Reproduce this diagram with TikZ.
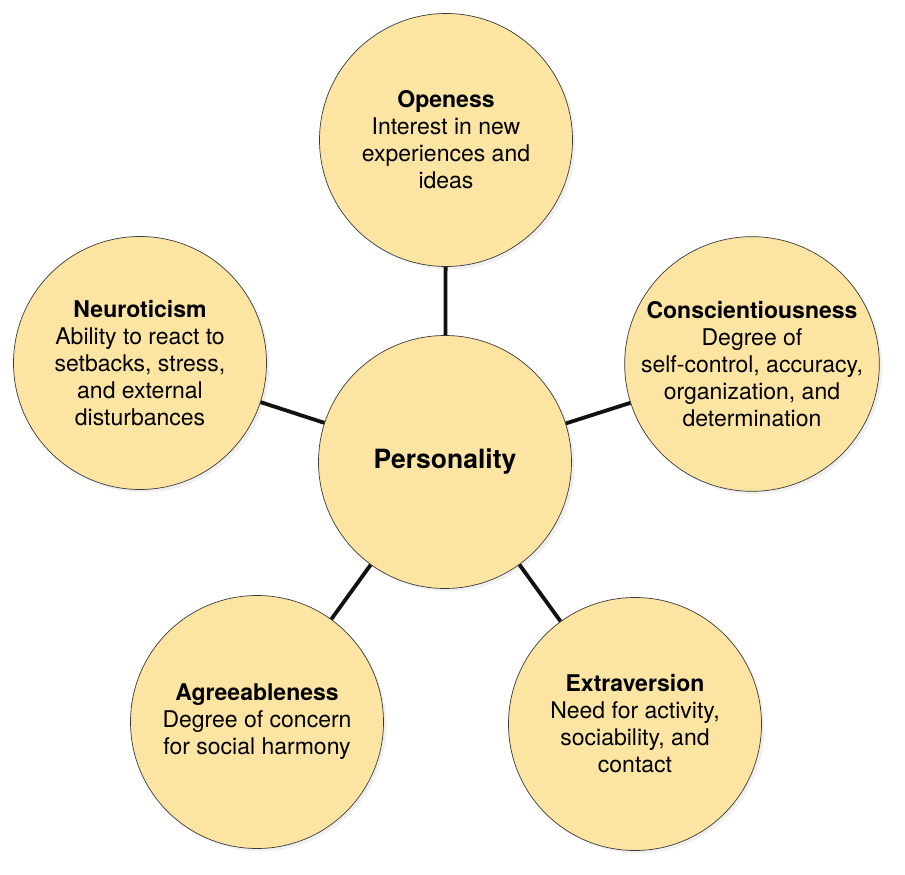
\documentclass[tikz,border=0pt]{standalone}
\usepackage{fontspec}
\setmainfont{TeX Gyre Heros}
\usepackage{xcolor}
\usepackage{tikz}
\usetikzlibrary{shadows}
\definecolor{traitfill}{HTML}{FCE4A3}
\definecolor{traitborder}{HTML}{3A3A3A}
\definecolor{linkcolor}{HTML}{111111}
\tikzset{
trait/.style={
circle,
draw=traitborder,
fill=traitfill,
line width=0.7pt,
minimum size=253pt,
inner sep=0pt,
align=center,
font=\fontsize{23}{27}\selectfont,
drop shadow={opacity=0.12, shadow xshift=3pt, shadow yshift=-3pt}
},
core/.style={
trait,
font=\fontsize{26.5}{30}\selectfont\bfseries
},
link/.style={
draw=linkcolor,
line width=3.8pt
}
}

\begin{document}
\begin{tikzpicture}[x=1pt, y=-1pt]
\useasboundingbox (0,0) rectangle (905,875);

\node[core] (core) at (445,462) {Personality};

% top
\node[trait] (open) at (446,140) {\textbf{Openess}\\Interest in new\\experiences and\\ideas};
% right
\node[trait] (consc) at (752,364) {\textbf{Conscientiousness}\\Degree of\\self-control, accuracy,\\organization, and\\determination};
% bottom right
\node[trait] (extra) at (635,724) {\textbf{Extraversion}\\Need for activity,\\sociability, and\\contact};
% bottom left
\node[trait] (agree) at (257,722) {\textbf{Agreeableness}\\Degree of concern\\for social harmony};
% left
\node[trait] (neuro) at (140,363) {\textbf{Neuroticism}\\Ability to react to\\setbacks, stress,\\and external\\disturbances};

\foreach \t in {open, consc, extra, agree, neuro} {
  \draw[link] (core) -- (\t);
}

\end{tikzpicture}
\end{document}
